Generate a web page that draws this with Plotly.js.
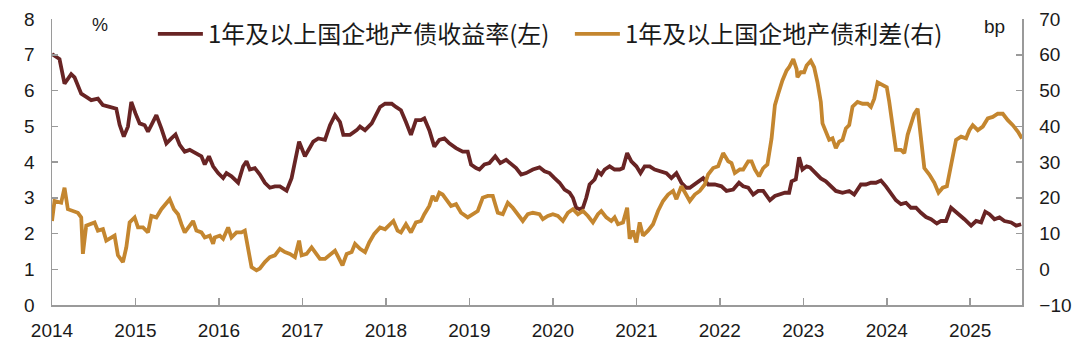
<!DOCTYPE html>
<html>
<head>
<meta charset="utf-8">
<script src="https://cdn.plot.ly/plotly-3.0.1.min.js"></script>
<style>html,body{margin:0;padding:0;background:#fff;}#chart{width:1080px;height:355px;}</style>
</head>
<body>
<div id="chart"></div>
<script>
// 1年及以上国企地产债收益率 (%), left axis; x = decimal year
const yieldDates = [
2014.00,2014.09,2014.15,2014.23,2014.27,2014.31,2014.35,2014.41,2014.47,2014.55,
2014.61,2014.69,2014.77,2014.81,2014.86,2014.91,2014.95,2015.00,2015.05,2015.11,
2015.15,2015.19,2015.25,2015.31,2015.37,2015.43,2015.48,2015.53,2015.59,2015.65,
2015.73,2015.79,2015.83,2015.88,2015.93,2015.99,2016.05,2016.09,2016.15,2016.23,
2016.29,2016.33,2016.37,2016.43,2016.49,2016.55,2016.61,2016.67,2016.73,2016.81,
2016.87,2016.92,2016.96,2017.03,2017.09,2017.13,2017.19,2017.27,2017.33,2017.39,
2017.45,2017.49,2017.57,2017.65,2017.69,2017.75,2017.83,2017.89,2017.93,2017.99,
2018.07,2018.12,2018.18,2018.24,2018.30,2018.36,2018.42,2018.46,2018.52,2018.58,
2018.64,2018.70,2018.76,2018.84,2018.92,2018.98,2019.02,2019.08,2019.12,2019.18,
2019.24,2019.31,2019.37,2019.44,2019.50,2019.56,2019.62,2019.68,2019.76,2019.84,
2019.90,2019.96,2020.02,2020.08,2020.14,2020.20,2020.24,2020.28,2020.32,2020.36,
2020.40,2020.44,2020.50,2020.54,2020.58,2020.62,2020.68,2020.74,2020.80,2020.84,
2020.89,2020.94,2021.00,2021.05,2021.10,2021.16,2021.22,2021.30,2021.36,2021.42,
2021.48,2021.54,2021.60,2021.64,2021.72,2021.80,2021.86,2021.94,2022.02,2022.08,
2022.16,2022.23,2022.28,2022.34,2022.40,2022.46,2022.52,2022.60,2022.66,2022.72,
2022.78,2022.83,2022.86,2022.91,2022.95,2022.99,2023.04,2023.08,2023.15,2023.21,
2023.27,2023.33,2023.39,2023.47,2023.55,2023.61,2023.69,2023.75,2023.81,2023.87,
2023.93,2023.99,2024.05,2024.11,2024.17,2024.23,2024.29,2024.35,2024.41,2024.47,
2024.53,2024.60,2024.65,2024.71,2024.77,2024.82,2024.87,2024.93,2025.01,2025.07,
2025.13,2025.18,2025.23,2025.29,2025.35,2025.41,2025.49,2025.55,2025.61
];
const yieldValues = [
7.02,6.88,6.19,6.46,6.37,6.14,5.91,5.82,5.73,5.77,
5.59,5.54,5.49,5.04,4.71,4.99,5.68,5.36,5.08,5.03,
4.85,5.03,5.31,4.94,4.52,4.66,4.77,4.48,4.29,4.34,
4.25,4.16,3.93,4.16,3.88,3.69,3.55,3.69,3.60,3.42,
3.88,4.02,3.79,3.83,3.65,3.42,3.28,3.32,3.32,3.20,
3.55,4.11,4.57,4.16,4.43,4.57,4.66,4.62,5.03,5.31,
5.12,4.76,4.76,4.89,4.99,4.89,5.08,5.36,5.54,5.63,
5.63,5.54,5.45,5.12,4.76,5.17,5.17,5.22,4.89,4.43,
4.62,4.66,4.52,4.39,4.29,4.29,3.93,3.83,3.79,3.93,
3.97,4.16,3.97,4.06,3.93,3.83,3.65,3.69,3.79,3.85,
3.74,3.69,3.55,3.42,3.23,3.14,3.00,2.72,2.68,2.72,
3.00,3.37,3.51,3.74,3.65,3.79,3.88,3.79,3.79,3.83,
4.25,4.02,3.88,3.69,3.88,3.88,3.79,3.74,3.69,3.55,
3.69,3.42,3.28,3.28,3.42,3.55,3.37,3.37,3.32,3.19,
3.23,3.42,3.32,3.28,3.09,3.19,3.19,2.93,3.05,3.09,
3.14,3.14,3.46,3.51,4.13,3.79,3.88,3.85,3.69,3.54,
3.46,3.32,3.19,3.14,3.19,3.09,3.37,3.37,3.42,3.42,
3.48,3.32,3.14,2.93,2.82,2.86,2.72,2.72,2.58,2.46,
2.40,2.28,2.35,2.35,2.72,2.63,2.54,2.40,2.22,2.35,
2.31,2.61,2.54,2.40,2.45,2.35,2.31,2.22,2.26
];

// 1年及以上国企地产债利差 (bp), right axis
const spreadDates = [
2014.00,2014.03,2014.11,2014.15,2014.19,2014.25,2014.31,2014.35,2014.37,2014.41,
2014.47,2014.51,2014.55,2014.61,2014.65,2014.71,2014.75,2014.79,2014.85,2014.89,
2014.93,2014.99,2015.03,2015.09,2015.15,2015.19,2015.25,2015.31,2015.37,2015.41,
2015.46,2015.51,2015.55,2015.59,2015.65,2015.69,2015.73,2015.79,2015.83,2015.89,
2015.93,2015.95,2016.01,2016.05,2016.11,2016.15,2016.21,2016.27,2016.31,2016.35,
2016.39,2016.45,2016.49,2016.55,2016.61,2016.67,2016.73,2016.79,2016.85,2016.91,
2016.96,2016.99,2017.05,2017.11,2017.16,2017.21,2017.27,2017.33,2017.39,2017.43,
2017.48,2017.53,2017.59,2017.63,2017.69,2017.75,2017.80,2017.86,2017.93,2017.99,
2018.04,2018.09,2018.14,2018.18,2018.24,2018.30,2018.36,2018.42,2018.46,2018.52,
2018.56,2018.60,2018.64,2018.68,2018.72,2018.78,2018.84,2018.90,2018.98,2019.04,
2019.10,2019.16,2019.22,2019.28,2019.34,2019.40,2019.46,2019.52,2019.58,2019.64,
2019.70,2019.76,2019.84,2019.88,2019.94,2020.00,2020.06,2020.12,2020.18,2020.24,
2020.30,2020.36,2020.42,2020.48,2020.54,2020.58,2020.64,2020.70,2020.74,2020.78,
2020.84,2020.89,2020.92,2020.96,2021.00,2021.04,2021.08,2021.14,2021.20,2021.26,
2021.32,2021.38,2021.44,2021.48,2021.54,2021.58,2021.64,2021.70,2021.76,2021.82,
2021.86,2021.92,2021.98,2022.04,2022.10,2022.14,2022.18,2022.24,2022.28,2022.34,
2022.38,2022.42,2022.47,2022.52,2022.57,2022.62,2022.66,2022.70,2022.75,2022.80,
2022.83,2022.88,2022.92,2022.93,2022.97,2023.01,2023.04,2023.09,2023.13,2023.17,
2023.21,2023.23,2023.27,2023.31,2023.35,2023.39,2023.43,2023.47,2023.51,2023.55,
2023.59,2023.65,2023.71,2023.77,2023.81,2023.85,2023.89,2023.95,2024.00,2024.03,
2024.07,2024.11,2024.17,2024.21,2024.25,2024.29,2024.33,2024.37,2024.41,2024.45,
2024.51,2024.57,2024.62,2024.67,2024.72,2024.75,2024.79,2024.83,2024.89,2024.95,
2024.99,2025.03,2025.09,2025.15,2025.21,2025.27,2025.33,2025.39,2025.45,2025.51,
2025.57,2025.62
];
const spreadValues = [
13.5,19.1,18.6,22.8,16.8,16.3,15.8,14.5,4.3,12.2,
12.6,13.1,10.8,11.2,8.0,8.9,9.4,3.9,2.0,6.1,
13.1,14.5,11.7,11.7,10.3,14.9,14.5,16.8,18.6,19.6,
16.8,15.4,12.6,10.3,12.2,13.5,10.8,10.3,8.9,9.4,
7.1,8.9,9.4,8.5,11.7,8.9,10.3,10.3,10.8,6.1,
0.6,-0.3,0.2,2.0,3.4,3.9,5.7,4.8,4.3,3.4,
8.0,3.9,4.3,6.1,4.3,2.9,2.9,3.9,5.2,3.4,
1.1,4.3,4.8,7.1,5.7,4.8,7.5,9.9,11.7,11.2,
12.2,13.5,10.8,10.3,12.6,10.3,13.1,13.5,15.4,17.7,
20.5,19.1,21.4,20.9,19.6,17.7,18.2,15.8,14.5,15.4,
16.3,20.0,20.5,20.5,15.8,15.4,18.6,17.2,15.4,13.5,
15.4,15.8,15.4,14.0,14.9,15.4,14.9,13.5,15.8,16.8,
15.4,16.3,14.9,13.1,15.4,16.3,14.5,13.5,14.5,12.6,
13.1,17.2,8.5,10.8,7.5,13.1,9.4,10.8,12.6,16.3,
19.1,20.9,21.9,19.6,23.2,21.4,19.1,20.9,21.9,23.7,
26.5,28.3,28.8,32.5,30.2,29.7,26.9,27.9,27.9,30.2,
30.2,27.9,26.0,28.3,29.3,36.6,45.9,49.1,52.8,55.6,
56.5,58.8,56.0,53.7,55.1,55.1,57.0,58.3,56.5,52.3,
46.8,40.8,38.5,36.2,36.6,33.9,35.7,36.2,39.4,40.3,
45.5,46.8,46.3,46.3,45.4,47.7,52.3,51.4,50.9,46.8,
39.4,33.4,33.4,32.5,37.6,40.8,43.5,44.9,37.6,28.3,
26.5,24.2,21.4,22.8,23.2,26.5,31.6,36.2,37.1,36.6,
38.9,40.3,38.9,39.9,42.2,42.6,43.5,43.5,41.7,40.3,
38.5,36.6
];

const xTickVals = [2014,2015,2016,2017,2018,2019,2020,2021,2022,2023,2024,2025];
const xTickText = ['2014','2015','2016','2017','2018','2019','2020','2021','2022','2023','2024','2025'];
const seriesNames = ['1年及以上国企地产债收益率(左)', '1年及以上国企地产债利差(右)'];

const axisColor = '#9a9a9a';
const tickFont = {family: 'Arial, "Liberation Sans", sans-serif', size: 19, color: '#1a1a1a'};

const traces = [
  {x: yieldDates, y: yieldValues, name: seriesNames[0], type: 'scatter', mode: 'lines',
   line: {color: '#682424', width: 3.8}, yaxis: 'y'},
  {x: spreadDates, y: spreadValues, name: seriesNames[1], type: 'scatter', mode: 'lines',
   line: {color: '#c4862f', width: 3.8}, yaxis: 'y2'}
];

const layout = {
  width: 1080, height: 355,
  margin: {l: 52, r: 58, t: 16, b: 50},
  paper_bgcolor: '#fff', plot_bgcolor: '#fff',
  showlegend: true,
  legend: {orientation: 'h', x: 0.104, xanchor: 'left', y: 1.025, yanchor: 'top',
    font: {family: '"Noto Sans CJK SC", sans-serif', size: 24, color: '#1a1a1a'},
    bgcolor: 'rgba(0,0,0,0)', itemwidth: 45, entrywidth: 357, entrywidthmode: 'pixels'},
  xaxis: {range: [2014, 2025.62], tickvals: xTickVals, ticktext: xTickText,
    showgrid: false, zeroline: false, showline: true, linecolor: axisColor, linewidth: 1.5,
    ticks: 'inside', ticklen: 7, tickcolor: axisColor, tickwidth: 1.5,
    tickfont: tickFont, ticklabelstandoff: 8},
  yaxis: {range: [0, 8], dtick: 1, tick0: 0, showgrid: false, zeroline: false,
    showline: true, linecolor: axisColor, linewidth: 1.5,
    ticks: 'inside', ticklen: 6, tickcolor: axisColor, tickwidth: 1.5,
    tickfont: tickFont, ticklabelstandoff: 12},
  yaxis2: {range: [-10, 70], dtick: 10, tick0: -10, overlaying: 'y', side: 'right',
    showgrid: false, zeroline: false, showline: true, linecolor: axisColor, linewidth: 1.5,
    ticks: 'inside', ticklen: 6, tickcolor: axisColor, tickwidth: 1.5,
    tickfont: tickFont, ticklabelstandoff: 12},
  annotations: [
    {text: '%', xref: 'paper', yref: 'paper', x: 0.049, y: 0.98, xanchor: 'center', yanchor: 'middle',
     showarrow: false, font: {family: 'Arial, "Liberation Sans", sans-serif', size: 18, color: '#1a1a1a'}},
    {text: 'bp', xref: 'paper', yref: 'paper', x: 0.972, y: 0.975, xanchor: 'center', yanchor: 'middle',
     showarrow: false, font: {family: 'Arial, "Liberation Sans", sans-serif', size: 19, color: '#1a1a1a'}}
  ]
};

Plotly.newPlot('chart', traces, layout, {displayModeBar: false, staticPlot: true});
</script>
</body>
</html>
